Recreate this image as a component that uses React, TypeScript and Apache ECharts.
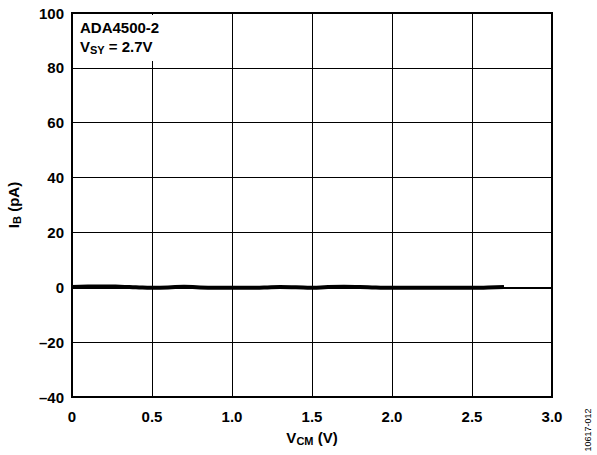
import React, { useEffect, useRef } from "react";
import * as echarts from "echarts";

const vcm = [0, 0.1, 0.2, 0.3, 0.4, 0.5, 0.6, 0.7, 0.8, 0.9, 1.0, 1.1, 1.2, 1.3, 1.4, 1.5, 1.6, 1.7, 1.8, 1.9, 2.0, 2.1, 2.2, 2.3, 2.4, 2.5, 2.6, 2.7];
const ib = [0.1, 0.3, 0.3, 0.2, 0.0, -0.2, -0.1, 0.2, -0.1, -0.2, -0.2, -0.2, -0.1, 0.1, 0.0, -0.2, 0.1, 0.2, 0.1, -0.1, -0.2, -0.2, -0.2, -0.2, -0.2, -0.2, -0.1, 0.1];
const xTicks = { min: 0, max: 3, interval: 0.5 };
const yTicks = { min: -40, max: 100, interval: 20 };

const FONT = "Liberation Sans, Arial, sans-serif";

export default function App() {
  const ref = useRef<HTMLDivElement>(null);
  useEffect(() => {
    const chart = echarts.init(ref.current!, null, { renderer: "svg" });
    const sub = { fontSize: 11, fontWeight: "bold", fontFamily: FONT, color: "#000", padding: [7, 0, 0, 0] };
    const main = { fontSize: 15, fontWeight: "bold", fontFamily: FONT, color: "#000" };
    chart.setOption({
      animation: false,
      grid: {
        left: 72, top: 13, right: 45, bottom: 58,
        containLabel: false, outerBoundsMode: "none",
        show: true, borderColor: "#000", borderWidth: 2, backgroundColor: "transparent",
      },
      xAxis: {
        type: "value", min: xTicks.min, max: xTicks.max, interval: xTicks.interval,
        axisLine: { show: true, lineStyle: { color: "#000", width: 2 } },
        axisTick: { show: false },
        splitLine: { show: true, lineStyle: { color: "#000", width: 1 } },
        axisLabel: {
          color: "#000", fontSize: 15, fontWeight: "bold", fontFamily: FONT, margin: 12,
          formatter: (v: number) => (v === 0 ? "0" : v.toFixed(1)),
        },
        name: "{m|V}{s|CM}{m| (V)}",
        nameLocation: "middle", nameGap: 31,
        nameTextStyle: { rich: { m: main, s: sub } },
      },
      yAxis: {
        type: "value", min: yTicks.min, max: yTicks.max, interval: yTicks.interval,
        axisLine: { show: true, lineStyle: { color: "#000", width: 2 } },
        axisTick: { show: false },
        splitLine: { show: true, lineStyle: { color: "#000", width: 1 } },
        axisLabel: {
          color: "#000", fontSize: 15, fontWeight: "bold", fontFamily: FONT, margin: 8,
          formatter: (v: number) => (v < 0 ? "\u2013" + Math.abs(v) : String(v)),
        },
        name: "{m|I}{s|B}{m| (pA)}",
        nameLocation: "middle", nameGap: 50, nameRotate: 90,
        nameTextStyle: { rich: { m: main, s: sub } },
      },
      graphic: [
        { type: "rect", shape: { x: 74, y: 15, width: 92, height: 46 }, style: { fill: "#fff" }, z: 100 },
        {
          type: "text", x: 80, y: 20, z: 101,
          style: { text: "ADA4500-2", font: `bold 15px ${FONT}`, fill: "#000" },
        },
        {
          type: "text", x: 80, y: 37, z: 101,
          style: {
            text: "{m|V}{s|SY}{m| = 2.7V}",
            rich: { m: main, s: sub },
          },
        },
        {
          type: "text", x: 588, y: 430, rotation: Math.PI / 2, z: 101,
          style: { text: "10617-012", font: `9px ${FONT}`, fill: "#000", align: "center", verticalAlign: "middle" },
        },
      ],
      series: [
        {
          type: "line", smooth: true, showSymbol: false,
          lineStyle: { color: "#000", width: 4 },
          data: vcm.map((x, i) => [x, ib[i]]),
        },
      ],
    });
    return () => chart.dispose();
  }, []);
  return <div ref={ref} style={{ width: 597, height: 455, position: "absolute", left: 0, top: 0, background: "#fff" }} />;
}
